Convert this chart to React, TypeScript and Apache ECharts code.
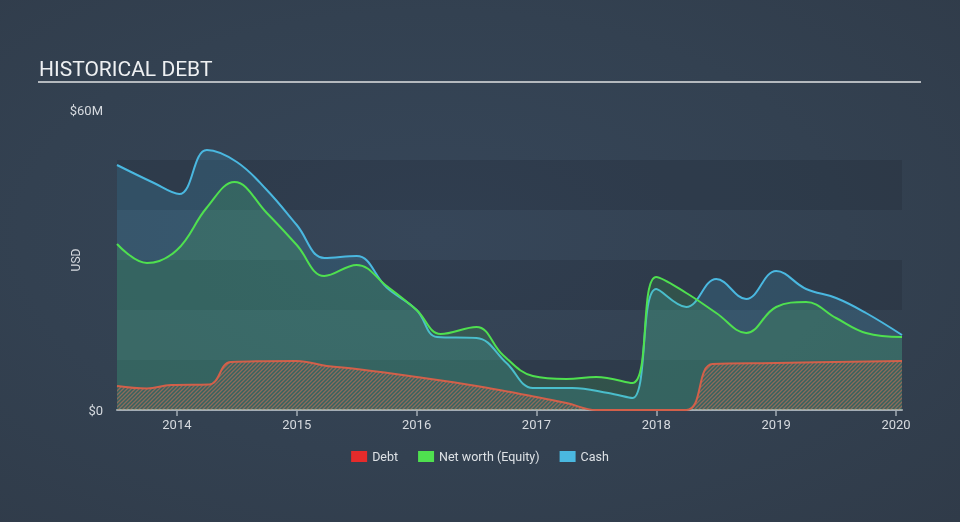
import React, { useEffect, useRef } from "react";
import * as echarts from "echarts";

const yearTicks = [2014, 2015, 2016, 2017, 2018, 2019, 2020];

const cashDates = [2013.5, 2013.8, 2014.02, 2014.25, 2014.5, 2014.75, 2015.0, 2015.23, 2015.5, 2015.75, 2016.0, 2016.17, 2016.5, 2016.75, 2016.97, 2017.3, 2017.6, 2017.8, 2018.0, 2018.25, 2018.5, 2018.75, 2019.0, 2019.25, 2019.5, 2019.75, 2020.05];
const cashValues = [49, 45.5, 43.2, 52, 49.6, 44, 37, 30.4, 30.8, 24.5, 20, 14.6, 14.4, 9.4, 4.4, 4.4, 3.4, 2.4, 24.2, 20.6, 26.2, 22.2, 27.8, 24.2, 22.4, 19.4, 15];

const equityDates = [2013.5, 2013.75, 2014.0, 2014.25, 2014.48, 2014.75, 2015.0, 2015.23, 2015.5, 2015.75, 2016.0, 2016.2, 2016.5, 2016.72, 2016.97, 2017.25, 2017.5, 2017.8, 2018.0, 2018.25, 2018.5, 2018.75, 2019.0, 2019.25, 2019.5, 2019.75, 2020.05];
const equityValues = [33.2, 29.4, 32, 40.5, 45.6, 39.4, 33, 26.8, 29, 24.8, 20, 15.2, 16.6, 11, 6.8, 6.2, 6.6, 5.4, 26.6, 23.4, 19.4, 15.4, 20.6, 21.6, 18.4, 15.4, 14.6];

const debtDates = [2013.5, 2013.75, 2013.95, 2014.27, 2014.45, 2015.0, 2015.25, 2015.5, 2016.0, 2016.5, 2017.0, 2017.25, 2017.5, 2018.25, 2018.47, 2019.0, 2020.05];
const debtValues = [4.8, 4.3, 5, 5.1, 9.6, 9.8, 8.8, 8.2, 6.6, 4.8, 2.6, 1.4, 0, 0, 9.2, 9.4, 9.8];

const pair = (d: number[], v: number[]) => d.map((x, i) => [x, v[i]]);

function makeHatch() {
  const c = document.createElement("canvas");
  c.width = 4;
  c.height = 4;
  const ctx = c.getContext("2d")!;
  ctx.strokeStyle = "rgba(222,112,84,0.75)";
  ctx.lineWidth = 1.3;
  ctx.beginPath();
  ctx.moveTo(0, 4);
  ctx.lineTo(4, 0);
  ctx.moveTo(-1, 1);
  ctx.lineTo(1, -1);
  ctx.moveTo(3, 5);
  ctx.lineTo(5, 3);
  ctx.stroke();
  return c;
}

export default function App() {
  const ref = useRef<HTMLDivElement>(null);
  useEffect(() => {
    if (!ref.current) return;
    const chart = echarts.init(ref.current, undefined, { renderer: "svg" });
    const font = "Roboto, sans-serif";
    chart.setOption({
      animation: false,
      textStyle: { fontFamily: font },
      title: {
        text: "HISTORICAL DEBT",
        left: 34,
        top: 53,
        textStyle: { color: "#eef0f2", fontSize: 21, fontWeight: "normal", fontFamily: font },
      },
      graphic: [
        {
          type: "line",
          shape: { x1: 38, y1: 82, x2: 921, y2: 82 },
          style: { stroke: "#b4b9be", lineWidth: 2 },
        },
      ],
      legend: {
        bottom: 54,
        left: "center",
        icon: "rect",
        itemWidth: 16,
        itemHeight: 11,
        itemGap: 20,
        textStyle: { color: "#dde1e5", fontSize: 12.5, fontFamily: font },
        data: [
          { name: "Debt", itemStyle: { color: "#e52b2b" } },
          { name: "Net worth (Equity)", itemStyle: { color: "#4fe04f" } },
          { name: "Cash", itemStyle: { color: "#4ab8e0" } },
        ],
      },
      grid: { left: 117, right: 58, top: 110, bottom: 112 },
      xAxis: {
        type: "value",
        min: 2013.5,
        max: 2020.05,
        splitLine: { show: false },
        axisLine: { lineStyle: { color: "#a3acb5", width: 2 } },
        axisTick: { customValues: yearTicks, length: 6, lineStyle: { color: "#a3acb5", width: 1.5 } },
        axisLabel: {
          customValues: yearTicks,
          color: "#d6dadf",
          fontSize: 13,
          margin: 8,
          formatter: (v: number) => String(Math.round(v)),
        },
      },
      yAxis: {
        type: "value",
        min: 0,
        max: 60,
        interval: 10,
        name: "USD",
        nameLocation: "middle",
        nameGap: 35,
        nameMoveOverlap: false,
        nameTextStyle: { color: "#d6dadf", fontSize: 12 },
        axisLine: { show: false },
        axisTick: { show: false },
        splitLine: { show: false },
        splitArea: {
          show: true,
          areaStyle: { color: ["rgba(22,30,40,0.18)", "rgba(0,0,0,0)"] },
        },
        axisLabel: {
          color: "#d6dadf",
          fontSize: 13,
          margin: 14,
          formatter: (v: number) => (v === 0 ? "$0" : v === 60 ? "$60M" : ""),
        },
      },
      series: [
        {
          name: "Cash",
          type: "line",
          data: pair(cashDates, cashValues),
          smooth: 0.4,
          showSymbol: false,
          lineStyle: { color: "#4ab8e0", width: 2 },
          itemStyle: { color: "#4ab8e0" },
          areaStyle: { color: "rgba(71,180,224,0.25)", origin: "start" },
          z: 2,
        },
        {
          name: "Net worth (Equity)",
          type: "line",
          data: pair(equityDates, equityValues),
          smooth: 0.4,
          showSymbol: false,
          lineStyle: { color: "#4fe04f", width: 2 },
          itemStyle: { color: "#4fe04f" },
          areaStyle: { color: "rgba(78,224,78,0.2)", origin: "start" },
          z: 3,
        },
        {
          name: "Debt",
          type: "line",
          data: pair(debtDates, debtValues),
          smooth: 0.4,
          showSymbol: false,
          lineStyle: { color: "#d2604a", width: 2 },
          itemStyle: { color: "#e52b2b" },
          areaStyle: { color: { image: makeHatch(), repeat: "repeat" }, origin: "start" },
          z: 4,
        },
      ],
    });
    return () => chart.dispose();
  }, []);
  return (
    <div
      style={{
        position: "fixed",
        left: 0,
        top: 0,
        width: 960,
        height: 522,
        background: "radial-gradient(ellipse at 45% 45%, #364659 0%, #334151 55%, #303b49 100%)",
      }}
    >
      <div ref={ref} style={{ width: 960, height: 522 }} />
    </div>
  );
}
